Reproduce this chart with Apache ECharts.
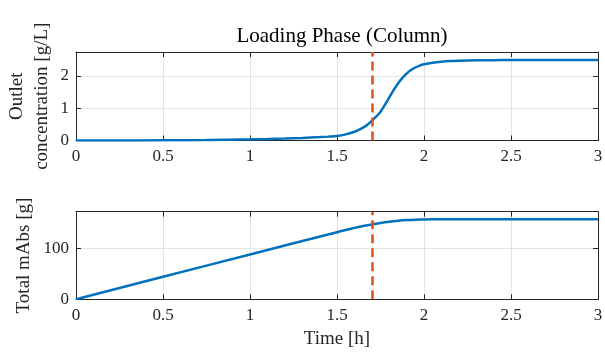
<!DOCTYPE html>
<html>
<head>
<meta charset="utf-8">
<script src="https://cdn.jsdelivr.net/npm/echarts@6/dist/echarts.min.js"></script>
<style>html,body{margin:0;padding:0;background:#fff}#c{width:605px;height:359px}</style>
</head>
<body>
<div id="c"></div>
<script>
// ---- data ----
const timeTop = [0, 0.25, 0.5, 0.75, 1, 1.1, 1.2, 1.3, 1.4, 1.45, 1.5, 1.55, 1.6, 1.625, 1.65, 1.675, 1.7, 1.725, 1.75, 1.775, 1.8, 1.825, 1.85, 1.875, 1.9, 1.925, 1.95, 1.975, 2, 2.05, 2.1, 2.15, 2.2, 2.3, 2.4, 2.5, 2.75, 3];
const concTop = [0, 0.002, 0.006, 0.015, 0.035, 0.045, 0.06, 0.08, 0.105, 0.12, 0.14, 0.19, 0.27, 0.33, 0.4, 0.49, 0.61, 0.74, 0.89, 1.1, 1.33, 1.56, 1.76, 1.93, 2.07, 2.18, 2.26, 2.32, 2.36, 2.41, 2.44, 2.46, 2.47, 2.483, 2.488, 2.49, 2.49, 2.49];
const timeBottom = [0, 0.5, 1, 1.5, 1.55, 1.6, 1.65, 1.7, 1.75, 1.8, 1.85, 1.9, 1.95, 2, 2.1, 2.25, 2.5, 3];
const massBottom = [0, 44, 87.5, 131, 135.3, 139.4, 143.0, 146.2, 149.0, 151.4, 153.3, 154.6, 155.4, 155.9, 156.2, 156.3, 156.4, 156.5];
const switchTime = 1.7;
const xTicks = [0, 0.5, 1, 1.5, 2, 2.5, 3];
const titleText = 'Loading Phase (Column)';
const yNameTop = 'Outlet\nconcentration [g/L]';
const yNameBottom = 'Total mAbs [g]';
const xName = 'Time [h]';

const FONT = 'Liberation Serif';
const axisCol = '#262626';
const gridCol = '#e3e3e3';

function xAx(gridIndex, pos, showLabels, name) {
  return {
    type: 'value', gridIndex, position: pos, min: 0, max: 3, interval: 0.5,
    axisLine: {show: true, onZero: false, lineStyle: {color: axisCol, width: 1}},
    axisTick: {show: true, inside: true, length: 5, lineStyle: {color: axisCol}},
    splitLine: {show: pos === 'bottom', lineStyle: {color: gridCol, width: 1}},
    axisLabel: {show: showLabels, color: axisCol, fontFamily: FONT, fontSize: 17, margin: 8,
      formatter: v => xTicks.includes(v) ? String(v) : ''},
    name: name || '', nameLocation: 'middle', nameGap: 30, nameMoveOverlap: false,
    nameTextStyle: {color: axisCol, fontFamily: FONT, fontSize: 19}
  };
}
function yAx(gridIndex, pos, max, interval, showLabels, name, gap) {
  return {
    type: 'value', gridIndex, position: pos, min: 0, max, interval,
    axisLine: {show: true, onZero: false, lineStyle: {color: axisCol, width: 1}},
    axisTick: {show: true, inside: true, length: 5, lineStyle: {color: axisCol}},
    splitLine: {show: pos === 'left', lineStyle: {color: gridCol, width: 1}},
    axisLabel: {show: showLabels, color: axisCol, fontFamily: FONT, fontSize: 17, margin: 7, showMaxLabel: false},
    name: name || '', nameLocation: 'middle', nameRotate: 90, nameGap: gap || 0, nameMoveOverlap: false,
    nameTextStyle: {color: axisCol, fontFamily: FONT, fontSize: 19, lineHeight: 25}
  };
}

const dashMark = {
  silent: true, symbol: ['none', 'none'], label: {show: false},
  lineStyle: {color: '#D95319', type: [9, 5], width: 2.5},
  data: [{xAxis: switchTime}]
};

const chart = echarts.init(document.getElementById('c'), null, {renderer: 'canvas'});
chart.setOption({
  backgroundColor: '#fff',
  animation: false,
  title: {text: titleText, left: 337, textAlign: 'center', top: 21,
    textStyle: {fontFamily: FONT, fontSize: 21, fontWeight: 'normal', color: '#000'}},
  grid: [
    {left: 76, right: 7, top: 52, height: 88.5, containLabel: false, outerBoundsMode: 'none'},
    {left: 76, right: 7, top: 211.7, height: 87.6, containLabel: false, outerBoundsMode: 'none'}
  ],
  xAxis: [xAx(0, 'bottom', true), xAx(0, 'top', false), xAx(1, 'bottom', true, xName), xAx(1, 'top', false)],
  yAxis: [yAx(0, 'left', 2.74, 1, true, yNameTop, 21), yAx(0, 'right', 2.74, 1, false),
          yAx(1, 'left', 171, 100, true, yNameBottom, 39), yAx(1, 'right', 171, 100, false)],
  series: [
    {type: 'line', xAxisIndex: 0, yAxisIndex: 0, showSymbol: false, smooth: 0.2,
      lineStyle: {color: '#0072BD', width: 2.5},
      data: timeTop.map((t, i) => [t, concTop[i]]), markLine: dashMark, z: 3},
    {type: 'line', xAxisIndex: 2, yAxisIndex: 2, showSymbol: false, smooth: 0.2,
      lineStyle: {color: '#0072BD', width: 2.5},
      data: timeBottom.map((t, i) => [t, massBottom[i]]), markLine: dashMark, z: 3}
  ]
});
</script>
</body>
</html>
